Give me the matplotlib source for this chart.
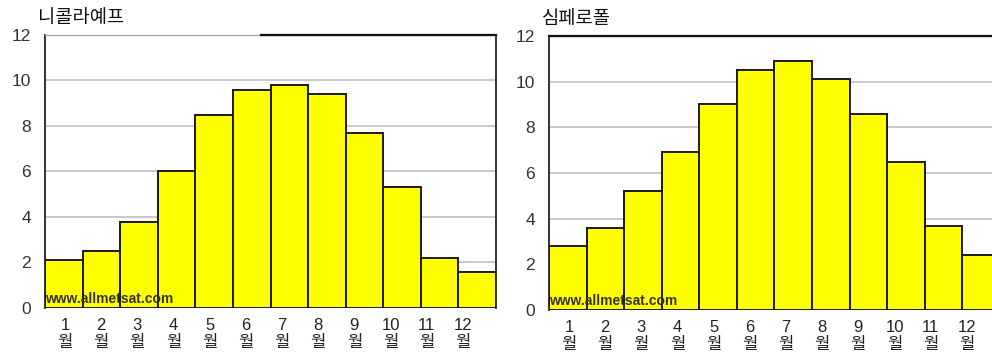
import numpy as np
import matplotlib.pyplot as plt

plt.rcParams['font.family'] = ['Liberation Sans', 'Noto Sans CJK KR', 'DejaVu Sans']

# 월별 값
months = [f"{m}\n월" for m in range(1, 13)]
mykolaiv = [2.1, 2.5, 3.8, 6.0, 8.5, 9.6, 9.8, 9.4, 7.7, 5.3, 2.2, 1.6]
simferopol = [2.8, 3.6, 5.2, 6.9, 9.0, 10.5, 10.9, 10.1, 8.6, 6.5, 3.7, 2.4]
titles = ["니콜라예프", "심페로폴"]
yticks = [0, 2, 4, 6, 8, 10, 12]

fig = plt.figure(figsize=(9.92, 3.58), dpi=100)
ax1 = fig.add_axes([0.0454, 0.1397, 0.4546, 0.7626])
ax2 = fig.add_axes([0.5534, 0.1341, 0.4546, 0.7654])


def draw(ax, vals, title, top_black_from):
    x = np.arange(len(vals))
    ax.bar(x, vals, width=1.0, align='edge', color='#ffff00',
           edgecolor='#1a1a1a', linewidth=1.4, zorder=3)
    ax.set_xlim(0, 12)
    ax.set_ylim(0, 12)
    for y in yticks[1:-1]:
        ax.axhline(y, color='#c4c4c4', linewidth=1.3, zorder=1)
    ax.set_yticks(yticks)
    ax.set_yticklabels([str(v) for v in yticks], fontsize=12.5, color='#333333')
    ax.tick_params(axis='y', length=0, pad=10)
    ax.set_xticks(np.linspace(0.53, 11.12, 12))
    ax.set_xticklabels(months, fontsize=12, color='#222222', linespacing=1.2)
    ax.tick_params(axis='x', length=0, pad=7)
    for s in ['left', 'right']:
        ax.spines[s].set_color('#222222')
        ax.spines[s].set_linewidth(1.3)
    ax.spines['bottom'].set_visible(False)
    ax.spines['top'].set_color('#aaaaaa')
    ax.spines['top'].set_linewidth(1.0)
    ax.axhline(12, xmin=top_black_from, xmax=1, color='#111111',
               linewidth=1.6, clip_on=False, zorder=4)
    ax.text(0.0, 0.08, "www.allmetsat.com", fontsize=10, fontweight='bold',
            color='#333333', zorder=5, va='bottom', ha='left')
    ax.text(-0.015, 1.025, title, transform=ax.transAxes, fontsize=13.5,
            color='#111111', ha='left', va='bottom',
            family=['Noto Sans CJK KR', 'DejaVu Sans'])


draw(ax1, mykolaiv, titles[0], 0.478)
draw(ax2, simferopol, titles[1], 0.0)

fig.savefig("out.png", dpi=100)
